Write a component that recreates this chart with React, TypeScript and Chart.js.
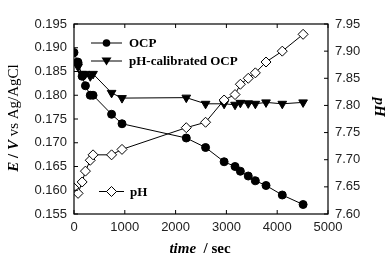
import React, { useEffect, useRef } from "react";
import { Chart, registerables } from "chart.js";
Chart.register(...registerables);

const timeOCP = [0, 75, 80, 160, 225, 320, 375, 740, 945, 2210, 2590, 2955, 3170, 3275, 3430, 3570, 3780, 4100, 4510];
const ocp = [0.189, 0.187, 0.1868, 0.184, 0.182, 0.180, 0.180, 0.176, 0.174, 0.171, 0.169, 0.166, 0.165, 0.164, 0.163, 0.162, 0.161, 0.159, 0.157];

const timeCal = [80, 160, 225, 320, 375, 740, 945, 2210, 2590, 2955, 3170, 3275, 3430, 3570, 3780, 4100, 4510];
const calOCP = [0.186, 0.1845, 0.1845, 0.184, 0.1845, 0.1805, 0.1794, 0.1795, 0.1782, 0.1782, 0.178, 0.1784, 0.1783, 0.1782, 0.1785, 0.1782, 0.1785];

const timePH = [0, 80, 160, 225, 320, 375, 740, 945, 2210, 2590, 2955, 3170, 3275, 3430, 3570, 3780, 4100, 4510];
const pH = [7.648, 7.638, 7.659, 7.679, 7.699, 7.709, 7.709, 7.719, 7.759, 7.769, 7.810, 7.820, 7.839, 7.850, 7.860, 7.880, 7.900, 7.931];

const xTicks = [0, 1000, 2000, 3000, 4000, 5000];
const eTicks = [0.155, 0.16, 0.165, 0.17, 0.175, 0.18, 0.185, 0.19, 0.195];
const pHTicks = [7.6, 7.65, 7.7, 7.75, 7.8, 7.85, 7.9, 7.95];

const legendRows = [
  { label: "OCP", style: "circle" },
  { label: "pH-calibrated OCP", style: "triangle" },
];
const legendPH = { label: "pH", style: "diamond" };

const SERIF = "'Liberation Serif', 'Times New Roman', serif";
const SANS = "'Liberation Sans', Arial, sans-serif";

function drawMarker(ctx: CanvasRenderingContext2D, style: string, x: number, y: number) {
  ctx.save();
  ctx.strokeStyle = "#000";
  ctx.lineWidth = 1;
  ctx.beginPath();
  if (style === "circle") {
    ctx.fillStyle = "#000";
    ctx.arc(x, y, 3.8, 0, Math.PI * 2);
    ctx.fill();
  } else if (style === "triangle") {
    ctx.fillStyle = "#000";
    ctx.moveTo(x - 5, y - 3.5);
    ctx.lineTo(x + 5, y - 3.5);
    ctx.lineTo(x, y + 4.5);
    ctx.closePath();
    ctx.fill();
  } else {
    ctx.fillStyle = "#fff";
    ctx.moveTo(x, y - 5);
    ctx.lineTo(x + 5, y);
    ctx.lineTo(x, y + 5);
    ctx.lineTo(x - 5, y);
    ctx.closePath();
    ctx.fill();
    ctx.stroke();
  }
  ctx.restore();
}

const framePlugin = {
  id: "framePlugin",
  afterDraw(chart: any) {
    const ctx: CanvasRenderingContext2D = chart.ctx;
    const { left, right, top, bottom } = chart.chartArea;
    const xs = chart.scales.x;
    const ys = chart.scales.y;
    const y2 = chart.scales.y2;
    ctx.save();
    ctx.strokeStyle = "#000";
    ctx.lineWidth = 1.2;
    ctx.strokeRect(left, top, right - left, bottom - top);
    ctx.lineWidth = 1;
    ctx.beginPath();
    xTicks.forEach((v) => {
      const px = xs.getPixelForValue(v);
      ctx.moveTo(px, bottom);
      ctx.lineTo(px, bottom - 4);
      ctx.moveTo(px, top);
      ctx.lineTo(px, top + 4);
    });
    eTicks.forEach((v) => {
      const py = ys.getPixelForValue(v);
      ctx.moveTo(left, py);
      ctx.lineTo(left + 4, py);
    });
    pHTicks.forEach((v) => {
      const py = y2.getPixelForValue(v);
      ctx.moveTo(right, py);
      ctx.lineTo(right - 4, py);
    });
    ctx.stroke();

    // legend
    ctx.font = `bold 13px ${SERIF}`;
    ctx.fillStyle = "#000";
    ctx.textBaseline = "middle";
    ctx.textAlign = "left";
    const rowsY = [43, 61];
    legendRows.forEach((r, i) => {
      const yy = rowsY[i];
      ctx.beginPath();
      ctx.moveTo(91, yy);
      ctx.lineTo(122, yy);
      ctx.stroke();
      drawMarker(ctx, r.style, 106.5, yy);
      ctx.fillText(r.label, 129, yy + 1);
    });
    ctx.beginPath();
    ctx.moveTo(99, 191.5);
    ctx.lineTo(124, 191.5);
    ctx.stroke();
    drawMarker(ctx, legendPH.style, 111.5, 191.5);
    ctx.fillText(legendPH.label, 130, 192.5);

    // x title
    ctx.textBaseline = "middle";
    ctx.font = `italic bold 15px ${SERIF}`;
    const t1 = "time";
    const t2 = "  / sec";
    const w1 = ctx.measureText(t1).width;
    ctx.font = `bold 15px ${SERIF}`;
    const w2 = ctx.measureText(t2).width;
    const sx = 200 - (w1 + w2) / 2;
    ctx.font = `italic bold 15px ${SERIF}`;
    ctx.fillText(t1, sx, 249);
    ctx.font = `bold 15px ${SERIF}`;
    ctx.fillText(t2, sx + w1, 249);

    // left title
    ctx.save();
    ctx.translate(14, 118);
    ctx.rotate(-Math.PI / 2);
    const parts = [
      { t: "E", f: `italic bold 15px ${SERIF}` },
      { t: " / ", f: `bold 15px ${SERIF}` },
      { t: "V", f: `italic bold 15px ${SERIF}` },
      { t: " vs Ag/AgCl", f: `15px ${SERIF}` },
    ];
    let total = 0;
    parts.forEach((p) => {
      ctx.font = p.f;
      total += ctx.measureText(p.t).width;
    });
    let cx = -total / 2;
    parts.forEach((p) => {
      ctx.font = p.f;
      ctx.fillText(p.t, cx, 0);
      cx += ctx.measureText(p.t).width;
    });
    ctx.restore();

    // right title
    ctx.save();
    ctx.translate(379, 107);
    ctx.rotate(Math.PI / 2);
    ctx.font = `italic bold 15px ${SERIF}`;
    ctx.textAlign = "center";
    ctx.fillText("pH", 0, 0);
    ctx.restore();
    ctx.restore();
  },
};

export default function App() {
  const ref = useRef<HTMLCanvasElement | null>(null);
  useEffect(() => {
    if (!ref.current) return;
    const chart = new Chart(ref.current, {
      type: "scatter",
      data: {
        datasets: [
          {
            label: "pH",
            data: timePH.map((t, i) => ({ x: t, y: pH[i] })),
            yAxisID: "y2",
            showLine: true,
            borderColor: "#000",
            borderWidth: 1,
            pointStyle: "rectRot",
            pointRadius: 5,
            pointBackgroundColor: "#fff",
            pointBorderColor: "#000",
            pointBorderWidth: 1,
          },
          {
            label: "pH-calibrated OCP",
            data: timeCal.map((t, i) => ({ x: t, y: calOCP[i] })),
            yAxisID: "y",
            showLine: true,
            borderColor: "#000",
            borderWidth: 1,
            pointStyle: "triangle",
            rotation: 180,
            pointRadius: 5,
            pointBackgroundColor: "#000",
            pointBorderColor: "#000",
          },
          {
            label: "OCP",
            data: timeOCP.map((t, i) => ({ x: t, y: ocp[i] })),
            yAxisID: "y",
            showLine: true,
            borderColor: "#000",
            borderWidth: 1,
            pointStyle: "circle",
            pointRadius: 4,
            pointBackgroundColor: "#000",
            pointBorderColor: "#000",
          },
        ],
      },
      options: {
        responsive: false,
        animation: false,
        layout: { padding: { top: 24, left: 0, right: 0, bottom: 0 } },
        plugins: { legend: { display: false }, tooltip: { enabled: false } },
        scales: {
          x: {
            type: "linear",
            min: 0,
            max: 5000,
            afterBuildTicks: (s: any) => { s.ticks = xTicks.map((v) => ({ value: v })); },
            afterFit: (s: any) => { s.height = 45; },
            grid: { display: false, drawTicks: false },
            border: { display: false },
            ticks: { color: "#222", padding: 6, font: { family: SANS, size: 13 }, maxRotation: 0, callback: (v: any) => String(v) },
          },
          y: {
            type: "linear",
            position: "left",
            min: 0.155,
            max: 0.195,
            afterBuildTicks: (s: any) => { s.ticks = eTicks.map((v) => ({ value: v })); },
            afterFit: (s: any) => { s.width = 74; },
            grid: { display: false, drawTicks: false },
            border: { display: false },
            ticks: { color: "#222", padding: 7, font: { family: SANS, size: 13 }, callback: (v: any) => Number(v).toFixed(3) },
          },
          y2: {
            type: "linear",
            position: "right",
            min: 7.6,
            max: 7.95,
            afterBuildTicks: (s: any) => { s.ticks = pHTicks.map((v) => ({ value: v })); },
            afterFit: (s: any) => { s.width = 59; },
            grid: { display: false, drawTicks: false },
            border: { display: false },
            ticks: { color: "#222", padding: 7, font: { family: SANS, size: 13 }, callback: (v: any) => Number(v).toFixed(2) },
          },
        },
      },
      plugins: [framePlugin],
    } as any);
    return () => chart.destroy();
  }, []);
  return (
    <div style={{ position: "fixed", left: 0, top: 0, width: 387, height: 259, background: "#fff" }}>
      <canvas ref={ref} width={387} height={259} />
    </div>
  );
}
